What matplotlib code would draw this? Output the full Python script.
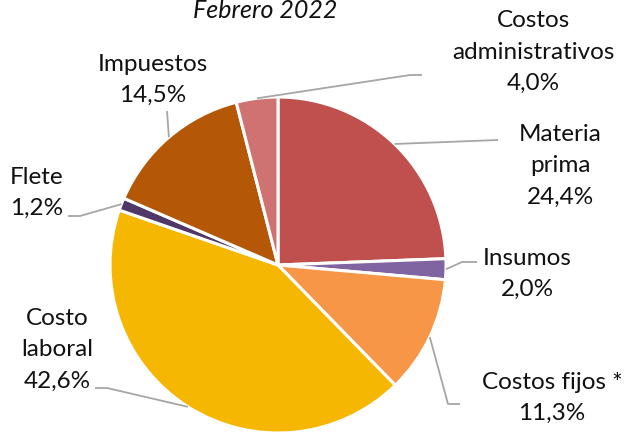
import numpy as np
import matplotlib.pyplot as plt

# Costos - Febrero 2022
titulo = 'Febrero 2022'
categorias = ['Materia\nprima', 'Insumos', 'Costos fijos *', 'Costo\nlaboral',
              'Flete', 'Impuestos', 'Costos\nadministrativos']
valores = [24.4, 2.0, 11.3, 42.6, 1.2, 14.5, 4.0]
colores = ['#C0504D', '#8064A2', '#F79646', '#F6B703',
           '#4F3868', '#B45707', '#D07272']

# layout in pixels of the 625x435 picture
cx, cy, r = 278, 266, 168
texto_px = [(560, 166), (527, 274), (552, 398), (57, 350),
            (37, 193), (153, 80), (533, 52)]
codo_px = [[(498, 141)], [(462, 263), (477, 263)], [(448, 405), (460, 405)],
           [(107, 389), (95, 389)], [(80, 217), (68, 217)], [(167, 112)],
           [(410, 76), (422, 76)]]


def px(x, y):
    return (x - cx) / r, (cy - y) / r


plt.rcParams['font.family'] = ['Lato', 'DejaVu Sans']

fig = plt.figure(figsize=(6.25, 4.35), dpi=100)
ax = fig.add_axes([0, 0, 1, 1])

wedges, _ = ax.pie(valores, colors=colores, startangle=90, counterclock=False,
                   radius=1, center=(0, 0), frame=True,
                   wedgeprops=dict(edgecolor='white', linewidth=2.2))
ax.set_xlim(-cx / r, (625 - cx) / r)
ax.set_ylim(-(435 - cy) / r, cy / r)
ax.axis('off')

for w, cat, v, tp, codo in zip(wedges, categorias, valores, texto_px, codo_px):
    ang = np.deg2rad((w.theta1 + w.theta2) / 2)
    pts = [(np.cos(ang), np.sin(ang))] + [px(*p) for p in codo]
    xs, ys = zip(*pts)
    ax.plot(xs, ys, color='#A6A6A6', lw=1.3, solid_capstyle='butt')
    etiqueta = cat + '\n' + f'{v:.1f}%'.replace('.', ',')
    ax.text(*px(*tp), etiqueta, ha='center', va='center', fontsize=17.5,
            linespacing=1.62, color='#111111')

ax.text(*px(265, 18), titulo, ha='center', va='baseline', fontsize=18,
        style='italic', color='#111111')

fig.savefig('out.png', dpi=100)
